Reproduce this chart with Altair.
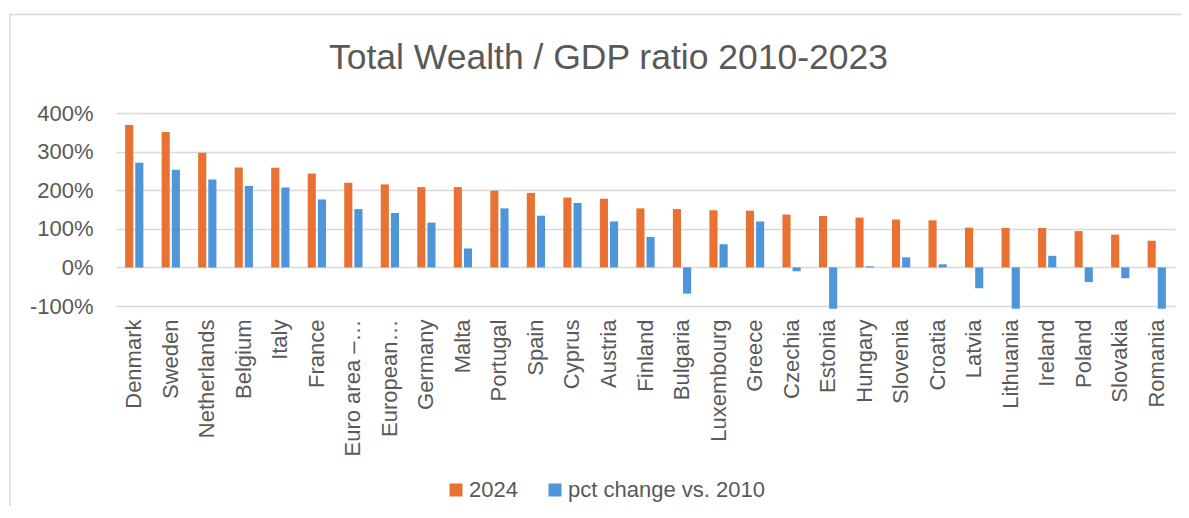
import altair as alt
import pandas as pd

countries = ["Denmark", "Sweden", "Netherlands", "Belgium", "Italy", "France",
             "Euro area –…", "European…", "Germany", "Malta", "Portugal", "Spain",
             "Cyprus", "Austria", "Finland", "Bulgaria", "Luxembourg", "Greece",
             "Czechia", "Estonia", "Hungary", "Slovenia", "Croatia", "Latvia",
             "Lithuania", "Ireland", "Poland", "Slovakia", "Romania"]
ratio_2024 = [3.69, 3.51, 2.97, 2.59, 2.58, 2.43, 2.19, 2.15, 2.08, 2.08, 1.99, 1.93,
              1.81, 1.78, 1.53, 1.51, 1.48, 1.47, 1.37, 1.33, 1.29, 1.24, 1.22, 1.03,
              1.02, 1.02, 0.94, 0.85, 0.69]
pct_change = [2.71, 2.53, 2.28, 2.11, 2.07, 1.76, 1.51, 1.41, 1.16, 0.49, 1.53, 1.34,
              1.67, 1.19, 0.79, -0.68, 0.60, 1.19, -0.10, -1.07, 0.03, 0.26, 0.08, -0.54,
              -1.07, 0.30, -0.38, -0.28, -1.07]
series_names = ["2024", "pct change vs. 2010"]
colors = ["#E97132", "#4E95D9"]
y_ticks = [-1, 0, 1, 2, 3, 4]

rows = []
for c, a, b in zip(countries, ratio_2024, pct_change):
    rows.append({"country": c, "series": series_names[0], "value": a})
    rows.append({"country": c, "series": series_names[1], "value": b})
df = pd.DataFrame(rows)

FONT = "Liberation Sans"
GREY = "#595959"
W, H = 1059, 193

bars = alt.Chart(df).mark_bar().encode(
    x=alt.X("country:N", sort=countries,
            scale=alt.Scale(paddingInner=0.5, paddingOuter=0.25),
            axis=alt.Axis(title=None, labelAngle=270, labelFontSize=22, labelColor=GREY,
                          labelFont=FONT, domain=False, ticks=False, labelPadding=13,
                          labelLimit=300)),
    xOffset=alt.XOffset("series:N", sort=series_names, scale=alt.Scale(paddingInner=0.2)),
    y=alt.Y("value:Q", scale=alt.Scale(domain=[-1, 4], nice=False, zero=False),
            axis=alt.Axis(title=None, values=y_ticks, grid=True, gridColor="#D9D9D9",
                          gridWidth=1.5, domain=False, ticks=False, labelPadding=23,
                          labelFontSize=22, labelColor=GREY, labelFont=FONT,
                          labelExpr="replace(format(datum.value, '.0%'), '−', '-')")),
    color=alt.Color("series:N", sort=series_names,
                    scale=alt.Scale(domain=series_names, range=colors),
                    legend=alt.Legend(title=None, orient="none", direction="horizontal",
                                      legendX=329, legendY=366, symbolType="square",
                                      symbolSize=169, symbolStrokeWidth=0,
                                      labelFontSize=22, labelColor=GREY, labelFont=FONT,
                                      labelOffset=2, columnPadding=26, padding=0,
                                      labelLimit=400)),
)

frame = alt.Chart(pd.DataFrame({"a": [0]})).mark_rect(
    fillOpacity=0, stroke="#D9D9D9", strokeWidth=1.5
).encode(x=alt.value(-106), x2=alt.value(1200), y=alt.value(-98.5), y2=alt.value(600))

chart = alt.layer(frame, bars).properties(
    width=W, height=H,
    title=alt.Title("Total Wealth / GDP ratio 2010-2023", fontSize=35.5, color=GREY,
                    font=FONT, fontWeight="normal", anchor="middle", dx=-37,
                    baseline="alphabetic", offset=0, dy=91),
    autosize=alt.AutoSizeParams(type="none"),
    padding={"left": 108, "top": 105, "right": 6, "bottom": 200},
).configure_view(stroke=None)

chart.save("out.html", embed_options={"renderer": "svg", "actions": False})
